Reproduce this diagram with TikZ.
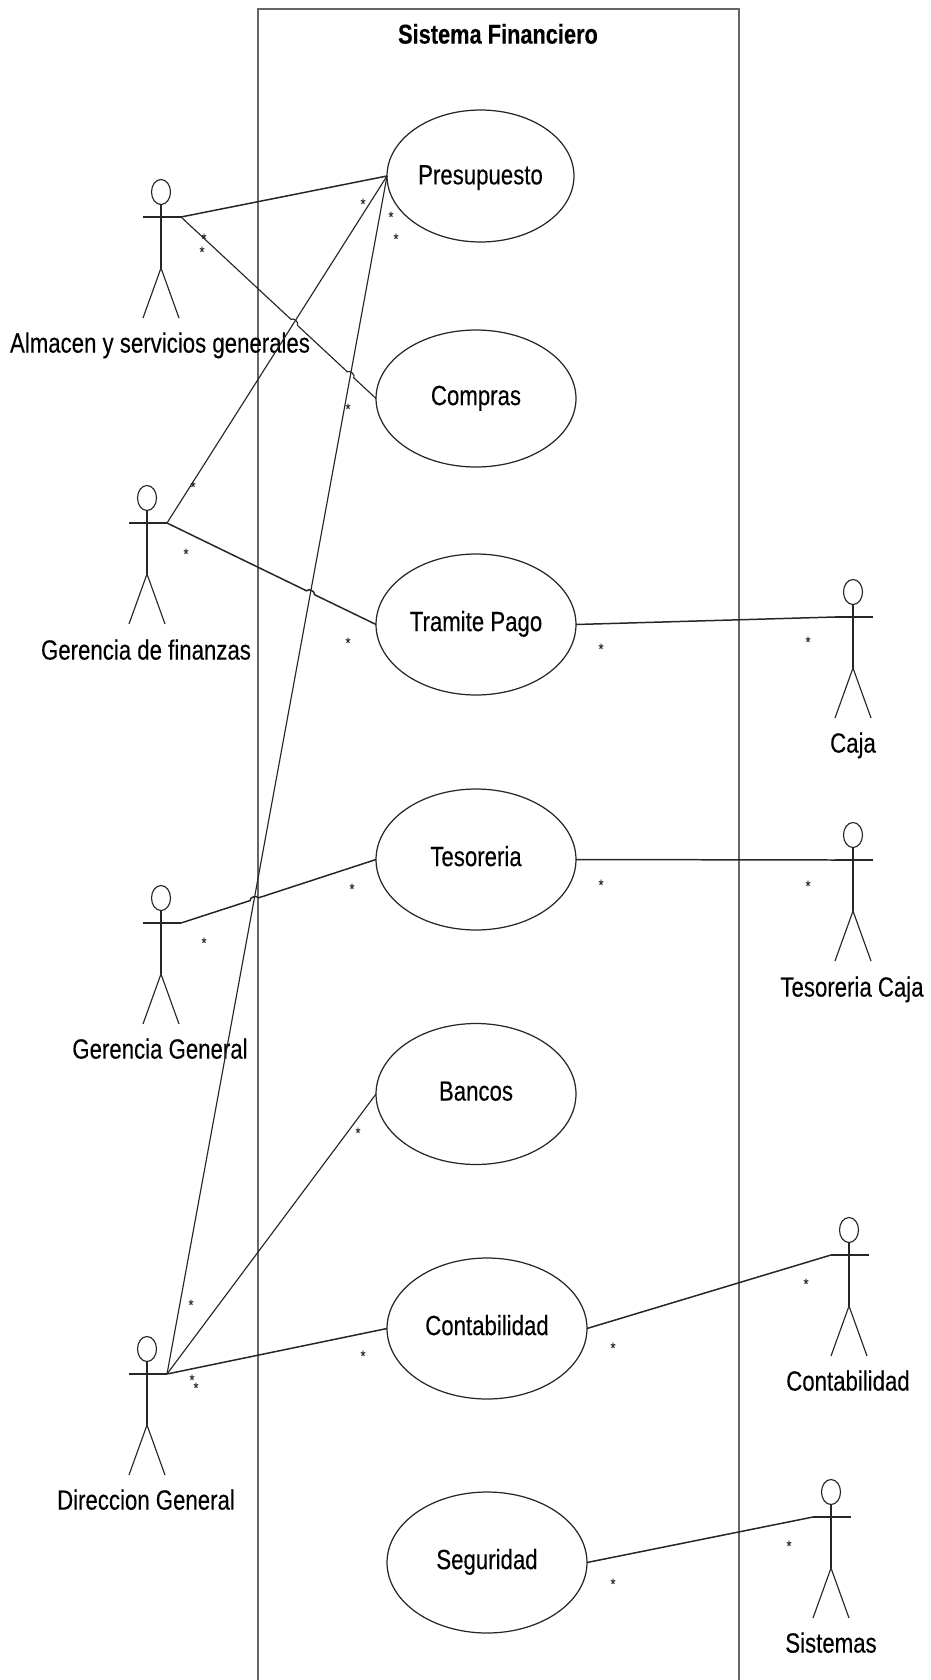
\documentclass[tikz,border=0pt]{standalone}
\usepackage{fontspec}
\setmainfont[FakeStretch=0.8,FakeBold=0.2,BoldFeatures={FakeBold=0.3}]{Liberation Sans}
\usepackage{tikz}
\usetikzlibrary{calc,shapes.geometric}

\tikzset{
lbl/.style={font=\fontsize{15.8}{18}\selectfont,inner sep=0,outer sep=0,text=black,text height=11pt,text depth=3.5pt},
usecase/.style={lbl,draw,ellipse,line width=0.7pt,minimum width=4cm,minimum height=2.82cm},
head/.style={draw,ellipse,minimum width=0.38cm,minimum height=0.5cm,inner sep=0,outer sep=0},
mult/.style={font=\fontsize{9}{9}\selectfont,inner sep=0,text=black!85},
assoc/.style={line width=0.85pt},
assocthin/.style={line width=0.65pt}
}

\begin{document}
\begin{tikzpicture}[x=0.02cm,y=-0.02cm,line width=0.65pt,black!85]
\useasboundingbox (0,0) rectangle (930,1680);

\draw[black!60,line width=1pt] (258,1680)--(258,9)--(739,9)--(739,1680);
\node[lbl,font=\fontsize{15.5}{18}\selectfont\bfseries] (titulo) at (498,37) {Sistema Financiero};

\node[usecase,minimum width=3.74cm,minimum height=2.64cm] (presupuesto) at (480.5,176) {\raisebox{-1pt}{Presupuesto}};
\node[usecase,minimum height=2.74cm] (compras) at (476,398.5) {Compras};
\node[usecase] (tramite) at (476,624.5) {Tramite Pago};
\node[usecase] (tesoreria) at (476,859.5) {Tesoreria};
\node[usecase] (bancos) at (476,1094) {Bancos};
\node[usecase] (contabilidad) at (487,1328.5) {Contabilidad};
\node[usecase] (seguridad) at (487,1562.5) {Seguridad};

\foreach \name/\x/\y in {almacen/161/192,finanzas/147/498,general/161/898,direccion/147/1349,caja/853/592,tesocaja/853/835,conta/849/1230,sistemas/831/1492}{
\begin{scope}[shift={(\x,\y)}]
\node[head] (\name) at (0,0) {};
\coordinate (\name-l) at (-18,25);
\coordinate (\name-r) at (20,25);
\coordinate (\name-c) at (0,76);
\draw[line width=0.85pt] (\name-l)--(\name-r);
\draw (\name.south)--(\name-c);
\draw (-18,126)--(\name-c)--(18,126);
\end{scope}
}

\node[lbl] (almacenlbl) at (160,346) {Almacen y servicios generales};
\node[lbl] (finanzaslbl) at (146,653) {Gerencia de finanzas};
\node[lbl] (generallbl) at (160,1052) {Gerencia General};
\node[lbl] (direccionlbl) at (146,1503) {Direccion General};
\node[lbl] (cajalbl) at (853,746) {Caja};
\node[lbl] (tesocajalbl) at (852,990) {Tesoreria Caja};
\node[lbl] (contalbl) at (848,1384) {Contabilidad};
\node[lbl] (sistemaslbl) at (831,1646) {Sistemas};

% cruces
\coordinate (hopa) at (intersection of almacen-r--compras.west and finanzas-r--presupuesto.west);
\coordinate (hopb) at (intersection of almacen-r--compras.west and direccion-r--presupuesto.west);
\coordinate (hopc) at (intersection of finanzas-r--tramite.west and direccion-r--presupuesto.west);
\coordinate (hopd) at (intersection of general-r--tesoreria.west and direccion-r--presupuesto.west);

\draw[assoc] (almacen-r)--(presupuesto.west);
\draw[assocthin] (almacen-r)--($(hopa)!2.5pt!(almacen-r)$) to[bend left=80] ($(hopa)!2.5pt!(compras.west)$)--($(hopb)!2.5pt!(almacen-r)$) to[bend left=80] ($(hopb)!2.5pt!(compras.west)$)--(compras.west);
\draw[assocthin] (finanzas-r)--(presupuesto.west);
\draw[assoc] (finanzas-r)--($(hopc)!2.5pt!(finanzas-r)$) to[bend left=80] ($(hopc)!2.5pt!(tramite.west)$)--(tramite.west);
\draw[assoc] (general-r)--($(hopd)!2.5pt!(general-r)$) to[bend left=80] ($(hopd)!2.5pt!(tesoreria.west)$)--(tesoreria.west);
\draw[assocthin] (direccion-r)--(presupuesto.west);
\draw[assocthin] (direccion-r)--(bancos.west);
\draw[assoc] (direccion-r)--(contabilidad.west);
\draw[assoc] (tramite.east)--(caja-l);
\draw[assoc] (tesoreria.east)--(tesocaja-l);
\draw[assoc] (contabilidad.east)--(conta-l);
\draw[assoc] (seguridad.east)--(sistemas-l);

\foreach \x/\y [count=\i] in {363/204,391/217,396/239,204/239,202/252,348/409,193/487,186/554,348/643,601/649,808/642,204/943,352/889,601/885,808/886,358/1133,191/1305,192/1380,196/1388,363/1356,613/1348,806/1284,613/1584,789/1546}{
\node[mult] (mult\i) at (\x,\y) {*};
}
\end{tikzpicture}
\end{document}
